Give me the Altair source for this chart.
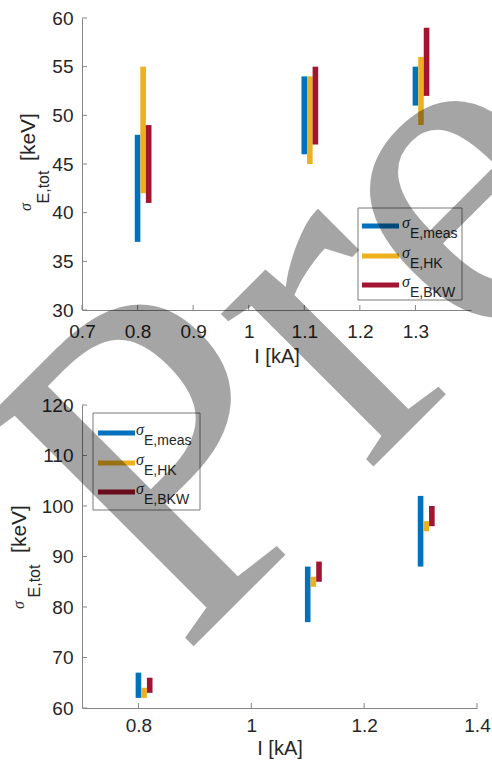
import altair as alt
import pandas as pd

# ---------------- data ----------------
currents = [0.8, 1.1, 1.3]                 # I [kA]
series_names = ["meas", "HK", "BKW"]
series_labels = ["E,meas", "E,HK", "E,BKW"]
series_colors = ["#0072BD", "#EDB120", "#A2142F"]
series_offsets = [0.0, 0.01, 0.02]         # horizontal shift of each series [kA]

# top panel: sigma_E,tot ranges [keV]
top_meas_lo = [37, 46, 51]
top_meas_hi = [48, 54, 55]
top_hk_lo = [42, 45, 49]
top_hk_hi = [55, 54, 56]
top_bkw_lo = [41, 47, 52]
top_bkw_hi = [49, 55, 59]

# bottom panel: sigma_E,tot ranges [keV]
bot_meas_lo = [62, 77, 88]
bot_meas_hi = [67, 88, 102]
bot_hk_lo = [62, 84, 95]
bot_hk_hi = [64, 86, 97]
bot_bkw_lo = [63, 85, 96]
bot_bkw_hi = [66, 89, 100]

top_xticks = [0.7, 0.8, 0.9, 1.0, 1.1, 1.2, 1.3]
top_yticks = [30, 35, 40, 45, 50, 55, 60]
bot_xticks = [0.8, 1.0, 1.2, 1.4]
bot_yticks = [60, 70, 80, 90, 100, 110, 120]

watermark_text = "Pre"
y_title_main = "[keV]"
y_title_sub = "E,tot"
x_title = "I [kA]"
sigma = "σ"


def build_df(los, his):
    rows = []
    for s, off, lo, hi in zip(series_names, series_offsets, los, his):
        for c, a, b in zip(currents, lo, hi):
            rows.append({"I": round(c + off, 3), "lo": a, "hi": b, "series": s})
    return pd.DataFrame(rows)


top_df = build_df([top_meas_lo, top_hk_lo, top_bkw_lo], [top_meas_hi, top_hk_hi, top_bkw_hi])
bot_df = build_df([bot_meas_lo, bot_hk_lo, bot_bkw_lo], [bot_meas_hi, bot_hk_hi, bot_bkw_hi])

FONT = "Liberation Sans"
TXT = "#262626"
AXC = "#858585"

color = alt.Color("series:N", scale=alt.Scale(domain=series_names, range=series_colors), legend=None)


def panel(df, xdomain, xticks, ydomain, yticks, W, H, xlabpad, xtitley,
          legend_box, legend_line_x, legend_line_y, sigma_x, sub_x,
          ytitle_pos, watermark=None):
    xs = alt.Scale(domain=xdomain, nice=False, zero=False)
    ys = alt.Scale(domain=ydomain, nice=False, zero=False)
    xaxis = alt.Axis(values=xticks, format="~g", title=x_title, ticks=False, grid=False,
                     domainColor=AXC, domainWidth=1, labelFont=FONT, labelFontSize=19,
                     labelColor=TXT, labelPadding=xlabpad, labelFlush=False, labelOverlap=False,
                     titleFont=FONT, titleFontSize=20, titleFontWeight="normal", titleColor=TXT,
                     titleY=xtitley, titleBaseline="middle")
    yaxis = alt.Axis(values=yticks, format="d", title="", ticks=False, grid=False,
                     domainColor=AXC, domainWidth=1, labelFont=FONT, labelFontSize=19,
                     labelColor=TXT, labelPadding=9, labelFlush=False, labelOverlap=False)

    bars = alt.Chart(df).mark_rule(strokeWidth=5.6, strokeCap="butt").encode(
        x=alt.X("I:Q", scale=xs, axis=xaxis),
        y=alt.Y("lo:Q", scale=ys, axis=yaxis),
        y2="hi:Q",
        color=color,
    )
    xt = alt.Chart(pd.DataFrame({"I": xticks})).mark_rule(color=AXC, strokeWidth=1).encode(
        x=alt.X("I:Q", scale=xs, axis=xaxis), y=alt.value(H), y2=alt.value(H - 5))
    yt = alt.Chart(pd.DataFrame({"lo": yticks})).mark_rule(color=AXC, strokeWidth=1).encode(
        y=alt.Y("lo:Q", scale=ys, axis=yaxis), x=alt.value(0), x2=alt.value(5))

    layers = [bars, xt, yt]

    # y-axis title with subscript
    (kx, ky), (ex, ey), (sx, sy) = ytitle_pos
    layers.append(alt.Chart(alt.Data(values=[{"t": y_title_main}])).mark_text(
        angle=270, align="center", baseline="alphabetic", font=FONT, fontSize=21, color=TXT
    ).encode(x=alt.value(kx), y=alt.value(ky), text="t:N"))
    layers.append(alt.Chart(alt.Data(values=[{"t": y_title_sub}])).mark_text(
        angle=270, align="center", baseline="alphabetic", font=FONT, fontSize=16, color=TXT
    ).encode(x=alt.value(ex), y=alt.value(ey), text="t:N"))
    layers.append(alt.Chart(alt.Data(values=[{"t": sigma}])).mark_text(
        angle=270, align="center", baseline="alphabetic", font="Liberation Serif",
        fontStyle="italic", fontSize=16, color=TXT
    ).encode(x=alt.value(sx), y=alt.value(sy), text="t:N"))

    # legend
    bx1, bx2, by1, by2 = legend_box
    layers.append(alt.Chart(alt.Data(values=[{"k": 1}])).mark_rect(
        fill="white", stroke="#7a7a7a", strokeWidth=1
    ).encode(x=alt.value(bx1), x2=alt.value(bx2), y=alt.value(by1), y2=alt.value(by2)))
    for name, lab, col, ly in zip(series_names, series_labels, series_colors, legend_line_y):
        d = alt.Data(values=[{"s": name, "lab": lab, "sig": sigma}])
        layers.append(alt.Chart(d).mark_rule(strokeWidth=5, strokeCap="butt", color=col).encode(
            x=alt.value(legend_line_x[0]), x2=alt.value(legend_line_x[1]), y=alt.value(ly)))
        layers.append(alt.Chart(d).mark_text(
            align="left", baseline="alphabetic", font="Liberation Serif", fontStyle="italic",
            fontSize=16, color=TXT
        ).encode(x=alt.value(sigma_x), y=alt.value(ly + 2), text="sig:N"))
        layers.append(alt.Chart(d).mark_text(
            align="left", baseline="alphabetic", font=FONT, fontSize=14, color=TXT
        ).encode(x=alt.value(sub_x), y=alt.value(ly + 12), text="lab:N"))

    if watermark is not None:
        wx, wy = watermark
        layers.append(alt.Chart(alt.Data(values=[{"t": watermark_text}])).mark_text(
            angle=315, align="left", baseline="alphabetic", font="Liberation Serif",
            fontSize=470, color="black", opacity=0.35
        ).encode(x=alt.value(wx), y=alt.value(wy), text="t:N"))

    return alt.layer(*layers).properties(width=W, height=H)


top = panel(top_df, [0.7, 1.4], top_xticks, [30, 60], top_yticks, 389, 292,
            xlabpad=12, xtitley=46,
            legend_box=(276, 380, 190, 282), legend_line_x=(280, 317),
            legend_line_y=[208, 238, 267], sigma_x=320, sub_x=328,
            ytitle_pos=((-47, 119), (-33, 169), (-51, 189)))

bottom = panel(bot_df, [0.7, 1.4], bot_xticks, [60, 120], bot_yticks, 395, 303,
               xlabpad=8, xtitley=40,
               legend_box=(11, 118, 8, 105), legend_line_x=(16, 53),
               legend_line_y=[28, 58, 87], sigma_x=54, sub_x=62,
               ytitle_pos=((-56, 124), (-42, 176), (-58, 200)),
               watermark=(100, 253))

chart = alt.vconcat(top, bottom, spacing=95, bounds="flush").properties(
    autosize=alt.AutoSizeParams(type="none"),
    padding={"left": 82, "top": 18, "right": 410, "bottom": 750},
).configure_view(stroke="transparent")

chart.save("out.html", embed_options={"renderer": "svg", "actions": False})
